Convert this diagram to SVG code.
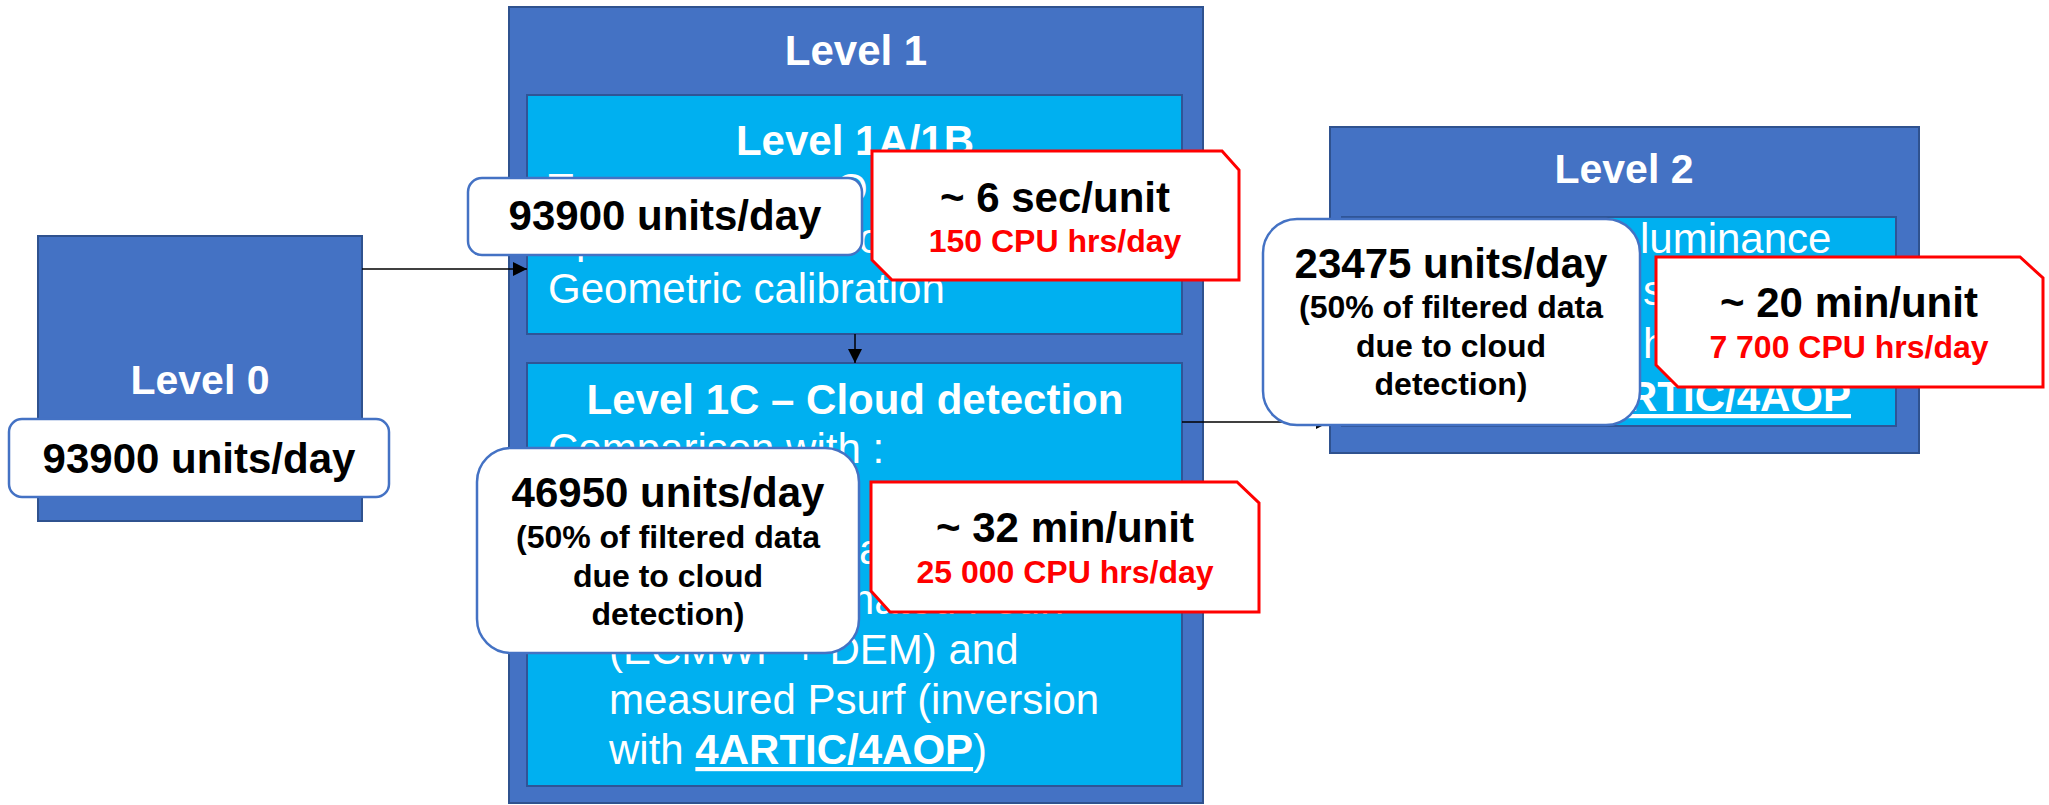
<svg xmlns="http://www.w3.org/2000/svg" width="2049" height="805" viewBox="0 0 2049 805">
  <style>
    .outer { fill: #4472C4; stroke: #2F528F; stroke-width: 2; }
    .inner { fill: #00B0F0; stroke: #2F5597; stroke-width: 2; }
    .title { font-family: "Liberation Sans", Arial, sans-serif; font-weight: bold; fill: #FFFFFF; text-anchor: middle; }
    .body { font-family: "Liberation Sans", Arial, sans-serif; font-size: 42px; fill: #FFFFFF; }
    .ul { font-weight: bold; text-decoration: underline; }
    .note { fill: #FFFFFF; stroke: #4472C4; stroke-width: 2.5; }
    .cost { fill: #FFFFFF; stroke: #FF0000; stroke-width: 3; }
    .big { font-family: "Liberation Sans", Arial, sans-serif; font-weight: bold; font-size: 42px; fill: #000000; text-anchor: middle; }
    .small { font-family: "Liberation Sans", Arial, sans-serif; font-weight: bold; font-size: 32px; fill: #000000; text-anchor: middle; }
    .red { font-family: "Liberation Sans", Arial, sans-serif; font-weight: bold; font-size: 32px; fill: #FF0000; text-anchor: middle; }
    .wire { fill: none; stroke: #000000; stroke-width: 1.5; }
  </style>
  <defs>
    <marker id="arrow" viewBox="0 0 14 14" refX="14" refY="7" markerWidth="14" markerHeight="14" markerUnits="userSpaceOnUse" orient="auto">
      <path d="M0,0 L14,7 L0,14 Z" fill="#000000"/>
    </marker>
  </defs>

  <!-- Level 0 -->
  <g id="level0">
    <rect class="outer" x="38" y="236" width="324" height="285"/>
    <text class="title" x="200" y="394" font-size="41">Level 0</text>
  </g>

  <!-- Level 1 container -->
  <g id="level1">
    <rect class="outer" x="509" y="7" width="694" height="796"/>
    <text class="title" x="856" y="65" font-size="42">Level 1</text>
  </g>

  <!-- Level 1A/1B -->
  <g id="level1ab">
    <rect class="inner" x="527" y="95" width="655" height="239"/>
    <text class="title" x="855" y="155" font-size="42">Level 1A/1B</text>
    <text class="body" x="548" y="203">T</text>
    <text class="body" x="835" y="203">O</text>
    <text class="body" x="548" y="253">Spectral calibration</text>
    <text class="body" x="548" y="303">Geometric calibration</text>
  </g>

  <!-- Level 1C -->
  <g id="level1c">
    <rect class="inner" x="527" y="363" width="655" height="423"/>
    <text class="title" x="855" y="414" font-size="42">Level 1C – Cloud detection</text>
    <text class="body" x="548" y="463">Comparison with :</text>
    <text class="body" x="859" y="564">a</text>
    <text class="body" x="774" y="614">estimated Psurf</text>
    <text class="body" x="609" y="664">(ECMWF + DEM) and</text>
    <text class="body" x="609" y="714">measured Psurf (inversion</text>
    <text class="body" x="609" y="764">with <tspan class="ul">4ARTIC/4AOP</tspan>)</text>
  </g>

  <!-- Level 2 -->
  <g id="level2">
    <rect class="outer" x="1330" y="127" width="589" height="326"/>
    <text class="title" x="1624" y="183" font-size="41">Level 2</text>
    <rect class="inner" x="1342" y="217" width="554" height="209"/>
    <text class="body" x="1640" y="253">luminance</text>
    <text class="body" x="1643" y="305">s</text>
    <text class="body" x="1643" y="358">h</text>
    <text class="body" x="1851" y="411" text-anchor="end"><tspan class="ul">4ARTIC/4AOP</tspan></text>
  </g>

  <!-- Connectors -->
  <g id="connectors">
    <path class="wire" d="M362,269 H527" marker-end="url(#arrow)"/>
    <path class="wire" d="M855,334 V363" marker-end="url(#arrow)"/>
    <path class="wire" d="M1182,422 H1330" marker-end="url(#arrow)"/>
  </g>

  <!-- Volume callouts -->
  <g id="volume-l0">
    <rect class="note" x="9" y="419" width="380" height="78" rx="13"/>
    <text class="big" x="199" y="473">93900 units/day</text>
  </g>
  <g id="volume-l1ab">
    <rect class="note" x="468" y="178" width="394" height="77" rx="14"/>
    <text class="big" x="665" y="230">93900 units/day</text>
  </g>
  <g id="volume-l1c">
    <rect class="note" x="477" y="448" width="382" height="205" rx="34"/>
    <text class="big" x="668" y="507">46950 units/day</text>
    <text class="small" x="668" y="548">(50% of filtered data</text>
    <text class="small" x="668" y="587">due to cloud</text>
    <text class="small" x="668" y="625">detection)</text>
  </g>
  <g id="volume-l2">
    <rect class="note" x="1263" y="219" width="377" height="206" rx="34"/>
    <text class="big" x="1451" y="278">23475 units/day</text>
    <text class="small" x="1451" y="318">(50% of filtered data</text>
    <text class="small" x="1451" y="357">due to cloud</text>
    <text class="small" x="1451" y="395">detection)</text>
  </g>

  <!-- Processing cost callouts -->
  <g id="cost-l1ab">
    <path class="cost" d="M872,151 H1222 L1239,170 V280 H892 L872,260 Z"/>
    <text class="big" x="1055" y="212">~ 6 sec/unit</text>
    <text class="red" x="1055" y="252" font-size="31">150 CPU hrs/day</text>
  </g>
  <g id="cost-l1c">
    <path class="cost" d="M871,482 H1237 L1259,503 V612 H890 L871,591 Z"/>
    <text class="big" x="1065" y="542">~ 32 min/unit</text>
    <text class="red" x="1065" y="583">25 000 CPU hrs/day</text>
  </g>
  <g id="cost-l2">
    <path class="cost" d="M1656,257 H2020 L2043,278 V387 H1678 L1656,365 Z"/>
    <text class="big" x="1849" y="317">~ 20 min/unit</text>
    <text class="red" x="1849" y="358">7 700 CPU hrs/day</text>
  </g>
</svg>
